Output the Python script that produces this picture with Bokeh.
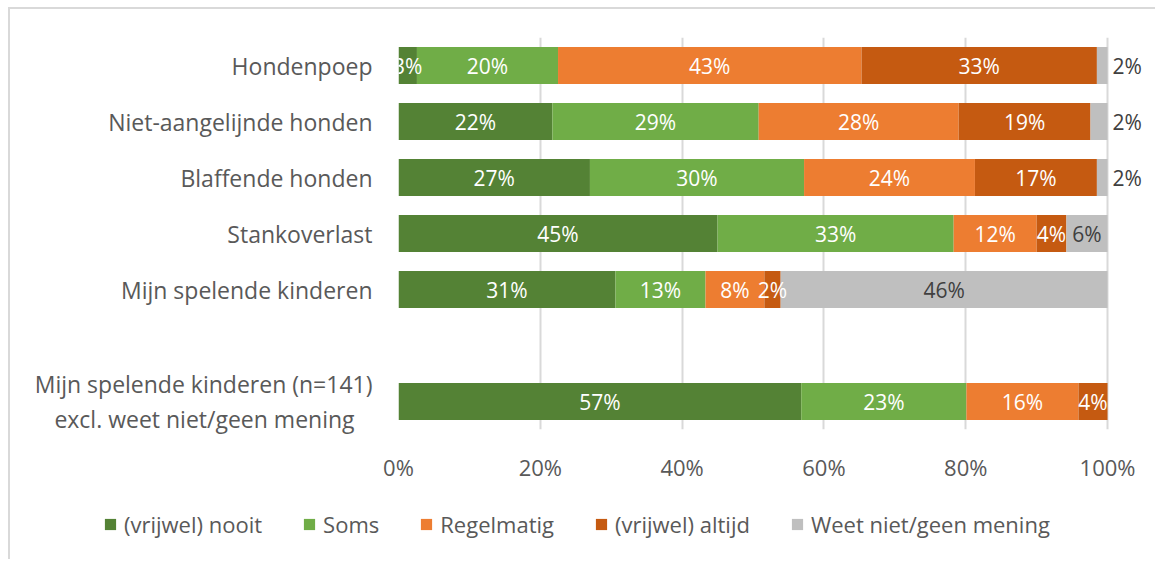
from bokeh.plotting import figure
from bokeh.layouts import column
from bokeh.models import ColumnDataSource, FactorRange, Legend, LegendItem, Range1d, FixedTicker
from bokeh.core.properties import value
from bokeh.embed import file_html
from bokeh.resources import INLINE

categories = ["Hondenpoep", "Niet-aangelijnde honden", "Blaffende honden", "Stankoverlast",
              "Mijn spelende kinderen", "Mijn spelende kinderen (n=141)\nexcl. weet niet/geen mening   "]
gap_after = 4  # empty slot between row 4 and row 5

series_names = ["(vrijwel) nooit", "Soms", "Regelmatig", "(vrijwel) altijd", "Weet niet/geen mening"]
nooit = [2.6, 21.7, 27.0, 45.0, 30.6, 56.8]
soms = [19.9, 29.1, 30.2, 33.3, 12.7, 23.3]
regelmatig = [42.8, 28.2, 24.1, 11.7, 8.3, 15.8]
altijd = [33.2, 18.6, 17.2, 4.2, 2.3, 4.1]
weetniet = [1.5, 2.4, 1.5, 5.8, 46.1, 0.0]
colors = ["#548235", "#70AD47", "#ED7D31", "#C55A11", "#BFBFBF"]
x_ticks = [0, 20, 40, 60, 80, 100]

FONT = "Open Sans"
series = [nooit, soms, regelmatig, altijd, weetniet]
keys = ["s0", "s1", "s2", "s3", "s4"]

factors = categories[:gap_after + 1] + [" "] + categories[gap_after + 1:]

p = figure(y_range=FactorRange(factors=list(reversed(factors)), range_padding=0),
           x_range=Range1d(0, 106.06),
           width=1145, height=475, output_backend="svg", toolbar_location=None,
           min_border_left=388, min_border_right=5, min_border_top=28, min_border_bottom=44)
p.outline_line_color = None
p.background_fill_color = "white"

data = {"cat": categories}
for k, s in zip(keys, series):
    data[k] = s
src = ColumnDataSource(data)
renderers = p.hbar_stack(keys, y="cat", height=0.66, source=src, color=colors, line_color=None)

# segment labels
in_x, in_y, in_t, in_c = [], [], [], []
out_x, out_y, out_t = [], [], []
for i, cat in enumerate(categories):
    left = 0.0
    for j, s in enumerate(series):
        v = s[i]
        if v > 0:
            txt = f"{round(v)}%"
            if j == 4 and v < 3:
                out_x.append(100.7); out_y.append(cat); out_t.append(txt)
            else:
                in_x.append(left + v / 2); in_y.append(cat); in_t.append(txt)
                in_c.append("#404040" if j == 4 else "white")
        left += v

p.text(x="x", y="y", text="t", text_color="c",
       source=ColumnDataSource(dict(x=in_x, y=in_y, t=in_t, c=in_c)),
       text_align="center", text_baseline="middle", text_font=value(FONT), text_font_size="21px")
p.text(x="x", y="y", text="t", source=ColumnDataSource(dict(x=out_x, y=out_y, t=out_t)),
       text_color="#404040", text_align="left", text_baseline="middle",
       text_font=value(FONT), text_font_size="21px")

p.xgrid.ticker = FixedTicker(ticks=x_ticks)
p.xgrid.grid_line_color = "#d9d9d9"
p.xgrid.grid_line_width = 2
p.ygrid.visible = False

p.xaxis.ticker = FixedTicker(ticks=x_ticks)
p.xaxis.major_label_overrides = {t: f"{t}%" for t in x_ticks}
for ax in (p.xaxis, p.yaxis):
    ax.axis_line_color = None
    ax.major_tick_line_color = None
    ax.minor_tick_line_color = None
    ax.major_label_text_color = "#595959"
    ax.major_label_text_font = FONT
p.xaxis.major_label_text_font_size = "22px"
p.yaxis.major_label_text_font_size = "23px"
p.yaxis.major_label_text_line_height = 1.1
p.xaxis.major_label_standoff = 16
p.yaxis.major_label_standoff = 20

# legend strip below the chart; its own renderers are hidden, only the legend shows
lg = figure(width=1145, height=75, output_backend="svg", toolbar_location=None,
            x_range=Range1d(0, 100), y_range=FactorRange(factors=categories),
            min_border_left=0, min_border_right=0, min_border_top=0, min_border_bottom=0)
lg.frame_align = False
lg.axis.visible = False
lg.grid.visible = False
lg.outline_line_color = None
lg_renderers = lg.hbar_stack(keys, y="cat", height=0.66, source=src, color=colors, line_color=None)
for r in lg_renderers:
    r.visible = False
legend = Legend(items=[LegendItem(label=n, renderers=[r]) for n, r in zip(series_names, lg_renderers)],
                orientation="horizontal", location=(93, 20),
                glyph_width=14, glyph_height=14, label_standoff=7, spacing=40,
                padding=0, margin=0, border_line_color=None, background_fill_alpha=0,
                label_text_font=FONT, label_text_font_size="22px", label_text_color="#595959")
lg.add_layout(legend, "center")

layout = column(p, lg, spacing=0)
layout.styles = {"margin-top": "7px", "margin-left": "8px",
                 "border-top": "2px solid #d9d9d9", "border-left": "2px solid #d9d9d9"}

open("out.html", "w").write(file_html(layout, INLINE))
